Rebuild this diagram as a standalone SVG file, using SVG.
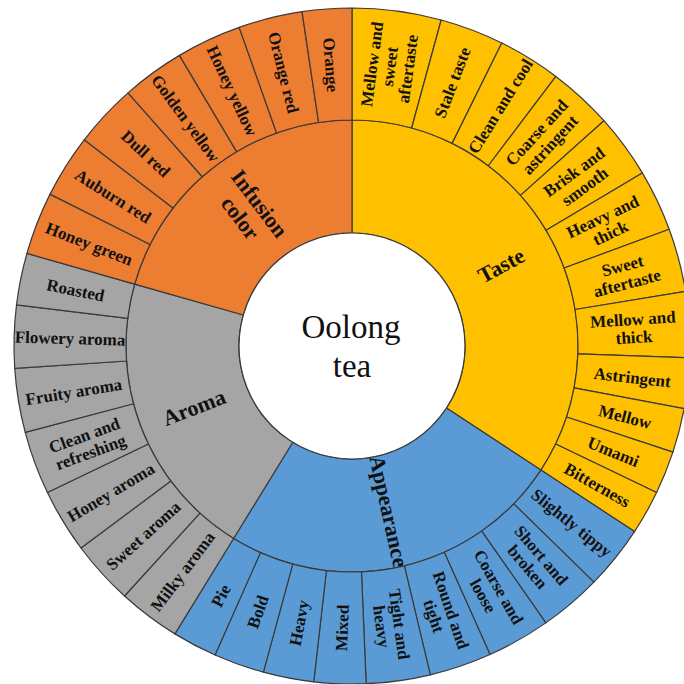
<svg xmlns="http://www.w3.org/2000/svg" width="684" height="684" viewBox="0 0 684 684">
<style>
.seg{stroke:#3a3a3a;stroke-width:1.2;stroke-linejoin:round}
.taste{fill:#FFC000}.app{fill:#5B9BD5}.aroma{fill:#A5A5A5}.inf{fill:#ED7D31}
.lbl{font-family:"Liberation Serif","Times New Roman",serif;font-weight:bold;font-size:17px;fill:#111;text-anchor:middle}
.cat{font-size:22px}
.ctr{font-family:"Liberation Serif","Times New Roman",serif;font-size:33px;fill:#111;text-anchor:middle}
</style>
<rect width="684" height="684" fill="#fff"/>

<!-- Categories (inner ring) -->
<g id="cat-taste"><path class="seg taste" d="M352,233 L352,120 A226,226 0 0 1 540.90,470.08 L446.45,408.04 A113,113 0 0 0 352,233 Z"/>
<text class="lbl cat" transform="translate(352,346) rotate(61.65) translate(0,-169.5) rotate(-90)" y="7.5">Taste</text></g>
<g id="cat-appearance"><path class="seg app" d="M446.45,408.04 L540.90,470.08 A226,226 0 0 1 233.58,538.49 L292.79,442.25 A113,113 0 0 0 446.45,408.04 Z"/>
<text class="lbl cat" transform="translate(352,346) rotate(167.45) translate(0,-169.5) rotate(-90)" y="7.5">Appearance</text></g>
<g id="cat-aroma"><path class="seg aroma" d="M292.79,442.25 L233.58,538.49 A226,226 0 0 1 134.65,284.09 L243.32,315.04 A113,113 0 0 0 292.79,442.25 Z"/>
<text class="lbl cat" transform="translate(352,346) rotate(248.75) translate(0,-169.5) rotate(90)" y="7.5">Aroma</text></g>
<g id="cat-infusion-color"><path class="seg inf" d="M243.32,315.04 L134.65,284.09 A226,226 0 0 1 352,120 L352,233 A113,113 0 0 0 243.32,315.04 Z"/>
<text class="lbl cat" transform="translate(352,346) rotate(322.95) translate(0,-169.5) rotate(90)"><tspan x="0" y="-4.5">Infusion</tspan><tspan x="0" y="19.5">color</tspan></text></g>

<!-- Root -->
<g id="root"><circle cx="352" cy="346" r="113" fill="#fff" stroke="#3a3a3a" stroke-width="1.2"/>
<text class="ctr" x="351" y="338">Oolong</text><text class="ctr" x="352" y="377">tea</text></g>

<!-- Taste leaves -->
<g id="leaf-mellow-sweet-aftertaste"><path class="seg taste" d="M352,120 L352,8 A338,338 0 0 1 441.19,19.98 L411.64,128.01 A226,226 0 0 0 352,120 Z"/>
<text class="lbl" transform="translate(352,346) rotate(7.65) translate(0,-282) rotate(-90)"><tspan x="0" y="-12">Mellow and</tspan><tspan x="0" y="6">sweet</tspan><tspan x="0" y="24">aftertaste</tspan></text></g>
<g id="leaf-stale-taste"><path class="seg taste" d="M411.64,128.01 L441.19,19.98 A338,338 0 0 1 501.76,42.98 L452.14,143.39 A226,226 0 0 0 411.64,128.01 Z"/>
<text class="lbl" transform="translate(352,346) rotate(20.8) translate(0,-282) rotate(-90)" y="6">Stale taste</text></g>
<g id="leaf-clean-and-cool"><path class="seg taste" d="M452.14,143.39 L501.76,42.98 A338,338 0 0 1 555.88,76.41 L488.33,165.74 A226,226 0 0 0 452.14,143.39 Z"/>
<text class="lbl" transform="translate(352,346) rotate(31.7) translate(0,-282) rotate(-90)" y="6">Clean and cool</text></g>
<g id="leaf-coarse-and-astringent"><path class="seg taste" d="M488.33,165.74 L555.88,76.41 A338,338 0 0 1 603.97,120.71 L520.48,195.36 A226,226 0 0 0 488.33,165.74 Z"/>
<text class="lbl" transform="translate(352,346) rotate(42.65) translate(0,-282) rotate(-90)"><tspan x="0" y="-3">Coarse and</tspan><tspan x="0" y="15">astringent</tspan></text></g>
<g id="leaf-brisk-and-smooth"><path class="seg taste" d="M520.48,195.36 L603.97,120.71 A338,338 0 0 1 642.33,172.93 L546.13,230.28 A226,226 0 0 0 520.48,195.36 Z"/>
<text class="lbl" transform="translate(352,346) rotate(53.7) translate(0,-282) rotate(-90)"><tspan x="0" y="-3">Brisk and</tspan><tspan x="0" y="15">smooth</tspan></text></g>
<g id="leaf-heavy-and-thick"><path class="seg taste" d="M546.13,230.28 L642.33,172.93 A338,338 0 0 1 669.21,229.29 L564.10,267.96 A226,226 0 0 0 546.13,230.28 Z"/>
<text class="lbl" transform="translate(352,346) rotate(64.5) translate(0,-282) rotate(-90)"><tspan x="0" y="-3">Heavy and</tspan><tspan x="0" y="15">thick</tspan></text></g>
<g id="leaf-sweet-aftertaste"><path class="seg taste" d="M564.10,267.96 L669.21,229.29 A338,338 0 0 1 685.56,291.38 L575.03,309.48 A226,226 0 0 0 564.10,267.96 Z"/>
<text class="lbl" transform="translate(352,346) rotate(75.25) translate(0,-282) rotate(-90)"><tspan x="0" y="-3">Sweet</tspan><tspan x="0" y="15">aftertaste</tspan></text></g>
<g id="leaf-mellow-and-thick"><path class="seg taste" d="M575.03,309.48 L685.56,291.38 A338,338 0 0 1 689.79,357.80 L577.86,353.89 A226,226 0 0 0 575.03,309.48 Z"/>
<text class="lbl" transform="translate(352,346) rotate(86.35) translate(0,-282) rotate(-90)"><tspan x="0" y="-3">Mellow and</tspan><tspan x="0" y="15">thick</tspan></text></g>
<g id="leaf-astringent"><path class="seg taste" d="M577.86,353.89 L689.79,357.80 A338,338 0 0 1 684.13,408.76 L574.07,387.96 A226,226 0 0 0 577.86,353.89 Z"/>
<text class="lbl" transform="translate(352,346) rotate(96.35) translate(0,-282) rotate(-90)" y="6">Astringent</text></g>
<g id="leaf-mellow"><path class="seg taste" d="M574.07,387.96 L684.13,408.76 A338,338 0 0 1 672.91,452.13 L566.57,416.96 A226,226 0 0 0 574.07,387.96 Z"/>
<text class="lbl" transform="translate(352,346) rotate(104.5) translate(0,-282) rotate(-90)" y="6">Mellow</text></g>
<g id="leaf-umami"><path class="seg taste" d="M566.57,416.96 L672.91,452.13 A338,338 0 0 1 656.57,492.58 L555.65,444.01 A226,226 0 0 0 566.57,416.96 Z"/>
<text class="lbl" transform="translate(352,346) rotate(112) translate(0,-282) rotate(-90)" y="6">Umami</text></g>
<g id="leaf-bitterness"><path class="seg taste" d="M555.65,444.01 L656.57,492.58 A338,338 0 0 1 634.51,531.57 L540.90,470.08 A226,226 0 0 0 555.65,444.01 Z"/>
<text class="lbl" transform="translate(352,346) rotate(119.5) translate(0,-282) rotate(-90)" y="6">Bitterness</text></g>

<!-- Appearance leaves -->
<g id="leaf-slightly-tippy"><path class="seg app" d="M540.90,470.08 L634.51,531.57 A338,338 0 0 1 593.91,582.07 L513.75,503.85 A226,226 0 0 0 540.90,470.08 Z"/>
<text class="lbl" transform="translate(352,346) rotate(128.8) translate(0,-282) rotate(-90)" y="6">Slightly tippy</text></g>
<g id="leaf-short-and-broken"><path class="seg app" d="M513.75,503.85 L593.91,582.07 A338,338 0 0 1 545.87,622.87 L481.63,531.13 A226,226 0 0 0 513.75,503.85 Z"/>
<text class="lbl" transform="translate(352,346) rotate(139.65) translate(0,-282) rotate(-90)"><tspan x="0" y="-3">Short and</tspan><tspan x="0" y="15">broken</tspan></text></g>
<g id="leaf-coarse-and-loose"><path class="seg app" d="M481.63,531.13 L545.87,622.87 A338,338 0 0 1 490.02,654.54 L444.28,552.30 A226,226 0 0 0 481.63,531.13 Z"/>
<text class="lbl" transform="translate(352,346) rotate(150.45) translate(0,-282) rotate(-90)"><tspan x="0" y="-3">Coarse and</tspan><tspan x="0" y="15">loose</tspan></text></g>
<g id="leaf-round-and-tight"><path class="seg app" d="M444.28,552.30 L490.02,654.54 A338,338 0 0 1 430.33,674.81 L404.38,565.85 A226,226 0 0 0 444.28,552.30 Z"/>
<text class="lbl" transform="translate(352,346) rotate(161.25) translate(0,-282) rotate(-90)"><tspan x="0" y="-3">Round and</tspan><tspan x="0" y="15">tight</tspan></text></g>
<g id="leaf-tight-and-heavy"><path class="seg app" d="M404.38,565.85 L430.33,674.81 A338,338 0 0 1 366.16,683.70 L361.46,571.80 A226,226 0 0 0 404.38,565.85 Z"/>
<text class="lbl" transform="translate(352,346) rotate(172.1) translate(0,-282) rotate(-90)"><tspan x="0" y="-3">Tight and</tspan><tspan x="0" y="15">heavy</tspan></text></g>
<g id="leaf-mixed"><path class="seg app" d="M361.46,571.80 L366.16,683.70 A338,338 0 0 1 313.74,681.83 L326.42,570.55 A226,226 0 0 0 361.46,571.80 Z"/>
<text class="lbl" transform="translate(352,346) rotate(182.05) translate(0,-282) rotate(90)" y="6">Mixed</text></g>
<g id="leaf-heavy"><path class="seg app" d="M326.42,570.55 L313.74,681.83 A338,338 0 0 1 263.38,672.18 L292.75,564.10 A226,226 0 0 0 326.42,570.55 Z"/>
<text class="lbl" transform="translate(352,346) rotate(190.85) translate(0,-282) rotate(90)" y="6">Heavy</text></g>
<g id="leaf-bold"><path class="seg app" d="M292.75,564.10 L263.38,672.18 A338,338 0 0 1 215.06,655.02 L260.44,552.62 A226,226 0 0 0 292.75,564.10 Z"/>
<text class="lbl" transform="translate(352,346) rotate(199.55) translate(0,-282) rotate(90)" y="6">Bold</text></g>
<g id="leaf-pie"><path class="seg app" d="M260.44,552.62 L215.06,655.02 A338,338 0 0 1 174.89,633.88 L233.58,538.49 A226,226 0 0 0 260.44,552.62 Z"/>
<text class="lbl" transform="translate(352,346) rotate(207.75) translate(0,-282) rotate(90)" y="6">Pie</text></g>

<!-- Aroma leaves -->
<g id="leaf-milky-aroma"><path class="seg aroma" d="M233.58,538.49 L174.89,633.88 A338,338 0 0 1 124.52,596.00 L199.90,513.16 A226,226 0 0 0 233.58,538.49 Z"/>
<text class="lbl" transform="translate(352,346) rotate(216.95) translate(0,-282) rotate(90)" y="6">Milky aroma</text></g>
<g id="leaf-sweet-aroma"><path class="seg aroma" d="M199.90,513.16 L124.52,596.00 A338,338 0 0 1 80.99,548.00 L170.80,481.07 A226,226 0 0 0 199.90,513.16 Z"/>
<text class="lbl" transform="translate(352,346) rotate(227.8) translate(0,-282) rotate(90)" y="6">Sweet aroma</text></g>
<g id="leaf-honey-aroma"><path class="seg aroma" d="M170.80,481.07 L80.99,548.00 A338,338 0 0 1 47.43,492.58 L148.35,444.01 A226,226 0 0 0 170.80,481.07 Z"/>
<text class="lbl" transform="translate(352,346) rotate(238.8) translate(0,-282) rotate(90)" y="6">Honey aroma</text></g>
<g id="leaf-clean-and-refreshing"><path class="seg aroma" d="M148.35,444.01 L47.43,492.58 A338,338 0 0 1 25.21,432.34 L133.50,403.73 A226,226 0 0 0 148.35,444.01 Z"/>
<text class="lbl" transform="translate(352,346) rotate(249.75) translate(0,-282) rotate(90)"><tspan x="0" y="-3">Clean and</tspan><tspan x="0" y="15">refreshing</tspan></text></g>
<g id="leaf-fruity-aroma"><path class="seg aroma" d="M133.50,403.73 L25.21,432.34 A338,338 0 0 1 14.74,368.40 L126.50,360.98 A226,226 0 0 0 133.50,403.73 Z"/>
<text class="lbl" transform="translate(352,346) rotate(260.7) translate(0,-282) rotate(90)" y="6">Fruity aroma</text></g>
<g id="leaf-flowery-aroma"><path class="seg aroma" d="M126.50,360.98 L14.74,368.40 A338,338 0 0 1 16.52,304.81 L127.68,318.46 A226,226 0 0 0 126.50,360.98 Z"/>
<text class="lbl" transform="translate(352,346) rotate(271.6) translate(0,-282) rotate(90)" y="6">Flowery aroma</text></g>
<g id="leaf-roasted"><path class="seg aroma" d="M127.68,318.46 L16.52,304.81 A338,338 0 0 1 26.93,253.40 L134.65,284.09 A226,226 0 0 0 127.68,318.46 Z"/>
<text class="lbl" transform="translate(352,346) rotate(281.45) translate(0,-282) rotate(90)" y="6">Roasted</text></g>

<!-- Infusion color leaves -->
<g id="leaf-honey-green"><path class="seg inf" d="M134.65,284.09 L26.93,253.40 A338,338 0 0 1 50.03,194.13 L150.09,244.45 A226,226 0 0 0 134.65,284.09 Z"/>
<text class="lbl" transform="translate(352,346) rotate(291.3) translate(0,-282) rotate(90)" y="6">Honey green</text></g>
<g id="leaf-auburn-red"><path class="seg inf" d="M150.09,244.45 L50.03,194.13 A338,338 0 0 1 84.20,139.77 L172.94,208.10 A226,226 0 0 0 150.09,244.45 Z"/>
<text class="lbl" transform="translate(352,346) rotate(302.15) translate(0,-282) rotate(90)" y="6">Auburn red</text></g>
<g id="leaf-dull-red"><path class="seg inf" d="M172.94,208.10 L84.20,139.77 A338,338 0 0 1 128.03,92.85 L202.25,176.74 A226,226 0 0 0 172.94,208.10 Z"/>
<text class="lbl" transform="translate(352,346) rotate(313.05) translate(0,-282) rotate(90)" y="6">Dull red</text></g>
<g id="leaf-golden-yellow"><path class="seg inf" d="M202.25,176.74 L128.03,92.85 A338,338 0 0 1 179.44,55.37 L236.62,151.67 A226,226 0 0 0 202.25,176.74 Z"/>
<text class="lbl" transform="translate(352,346) rotate(323.9) translate(0,-282) rotate(90)" y="6">Golden yellow</text></g>
<g id="leaf-honey-yellow"><path class="seg inf" d="M236.62,151.67 L179.44,55.37 A338,338 0 0 1 239.17,27.39 L276.56,132.96 A226,226 0 0 0 236.62,151.67 Z"/>
<text class="lbl" transform="translate(352,346) rotate(334.9) translate(0,-282) rotate(90)" y="6">Honey yellow</text></g>
<g id="leaf-orange-red"><path class="seg inf" d="M276.56,132.96 L239.17,27.39 A338,338 0 0 1 302.04,11.71 L318.59,122.48 A226,226 0 0 0 276.56,132.96 Z"/>
<text class="lbl" transform="translate(352,346) rotate(346) translate(0,-282) rotate(90)" y="6">Orange red</text></g>
<g id="leaf-orange"><path class="seg inf" d="M318.59,122.48 L302.04,11.71 A338,338 0 0 1 352,8 L352,120 A226,226 0 0 0 318.59,122.48 Z"/>
<text class="lbl" transform="translate(352,346) rotate(355.75) translate(0,-282) rotate(90)" y="6">Orange</text></g>
</svg>
